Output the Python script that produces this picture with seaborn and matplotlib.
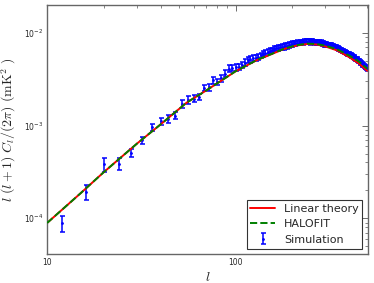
import numpy as np
import pandas as pd
import matplotlib
matplotlib.use("Agg")
import matplotlib.pyplot as plt
import seaborn as sns
from matplotlib.ticker import FuncFormatter, LogLocator, NullFormatter

# theory curves, l(l+1)C_l/2pi in units of 1e-3 mK^2
theory_ell = [10, 15, 20, 30, 40, 55, 70, 100, 130, 155, 180, 210, 240,
              270, 300, 345, 400, 450, 500]
linear_cl = [0.089, 0.185, 0.315, 0.64, 1.03, 1.77, 2.4, 3.85, 5.1, 5.9,
             6.7, 7.3, 7.6, 7.5, 7.15, 6.5, 5.5, 4.7, 3.9]
halofit_cl = [0.089, 0.185, 0.315, 0.64, 1.03, 1.77, 2.4, 3.86, 5.12, 5.93,
              6.74, 7.36, 7.68, 7.6, 7.28, 6.68, 5.72, 4.95, 4.12]

# simulation band powers, bins of width 4 starting at l=12
sim_ell = np.arange(12, 500, 4)
sim_cl = [
    0.088, 0.193, 0.383, 0.39, 0.51, 0.70, 0.96, 1.11, 1.18, 1.28,
    1.72, 1.90, 1.96, 2.05, 2.54, 2.60, 3.09, 2.95, 3.23, 3.65,
    4.13, 4.20, 4.25, 4.30, 4.55, 4.80, 5.10, 5.20, 5.35, 5.40,
    5.55, 5.75, 5.95, 6.10, 6.30, 6.45, 6.50, 6.70, 6.80, 6.85,
    7.00, 7.05, 7.10, 7.25, 7.30, 7.45, 7.50, 7.60, 7.70, 7.75,
    7.85, 7.80, 7.95, 8.00, 7.90, 8.05, 8.15, 8.05, 8.10, 7.95,
    8.05, 8.10, 7.95, 8.00, 7.90, 7.95, 7.85, 7.80, 7.85, 7.70,
    7.65, 7.60, 7.60, 7.55, 7.50, 7.45, 7.40, 7.35, 7.30, 7.20,
    7.15, 7.05, 7.00, 6.90, 6.85, 6.75, 6.70, 6.60, 6.55, 6.45,
    6.40, 6.30, 6.25, 6.15, 6.10, 6.00, 5.95, 5.90, 5.85, 5.75,
    5.70, 5.60, 5.55, 5.45, 5.40, 5.30, 5.25, 5.20, 5.10, 5.05,
    4.95, 4.90, 4.80, 4.75, 4.65, 4.55, 4.50, 4.40, 4.30, 4.25,
    4.15, 4.05,
]
sim_relerr = ([0.19, 0.18, 0.17, 0.15, 0.10, 0.09] + [0.09] * 7
              + [0.08] * 15 + [0.07] * 20 + [0.06] * 25 + [0.05] * 49)

sns.set_style("white")
plt.rcParams["font.family"] = ["DejaVu Sans"]
plt.rcParams["xtick.direction"] = "in"
plt.rcParams["ytick.direction"] = "in"

fig, ax = plt.subplots(figsize=(3.74, 2.83), dpi=100)
fig.subplots_adjust(left=0.126, right=0.984, top=0.982, bottom=0.102)

theory = pd.DataFrame({
    "ell": theory_ell,
    "linear": np.array(linear_cl) * 1e-3,
    "halofit": np.array(halofit_cl) * 1e-3,
})
sim = np.array(sim_cl) * 1e-3
err = sim * np.array(sim_relerr)

ax.errorbar(sim_ell, sim, yerr=err, fmt=".", color="b", ms=2,
            elinewidth=1.1, capsize=1.8, capthick=1.1, label="Simulation",
            zorder=1)
sns.lineplot(data=theory, x="ell", y="linear", color="red", lw=1.4,
             label="Linear theory", ax=ax, zorder=2)
sns.lineplot(data=theory, x="ell", y="halofit", color="green", lw=1.4,
             ls="--", dashes=(3, 2), label="HALOFIT", ax=ax, zorder=3)

ax.set_xscale("log")
ax.set_yscale("log")
ax.set_xlim(10, 505)
ax.set_ylim(4.1e-5, 2.0e-2)

ax.xaxis.set_major_locator(LogLocator(base=10))
ax.xaxis.set_major_formatter(FuncFormatter(lambda v, p: f"{v:g}"))
ax.xaxis.set_minor_formatter(NullFormatter())
ax.yaxis.set_minor_formatter(NullFormatter())
ax.tick_params(which="both", top=True, right=True, labelsize=5.5,
               color="#555555", pad=3)
ax.tick_params(which="major", length=4, width=0.6)
ax.tick_params(which="minor", length=2, width=0.5)
for sp in ax.spines.values():
    sp.set_color("#666666")
    sp.set_linewidth(1.0)

ax.set_xlabel(r"$l$", fontsize=10, math_fontfamily="cm", labelpad=2)
ax.set_ylabel(r"$l\ (l+1)\ C_l/(2\pi)\ (\mathrm{mK}^2\ )$", fontsize=10,
              math_fontfamily="cm", labelpad=4)

leg = ax.legend(loc="lower right", fontsize=8, fancybox=False,
                frameon=True, borderaxespad=0.5, handlelength=2.2,
                borderpad=0.35, labelspacing=0.5)
leg.get_frame().set_edgecolor("black")
leg.get_frame().set_linewidth(0.8)

fig.savefig("out.png", dpi=100)
